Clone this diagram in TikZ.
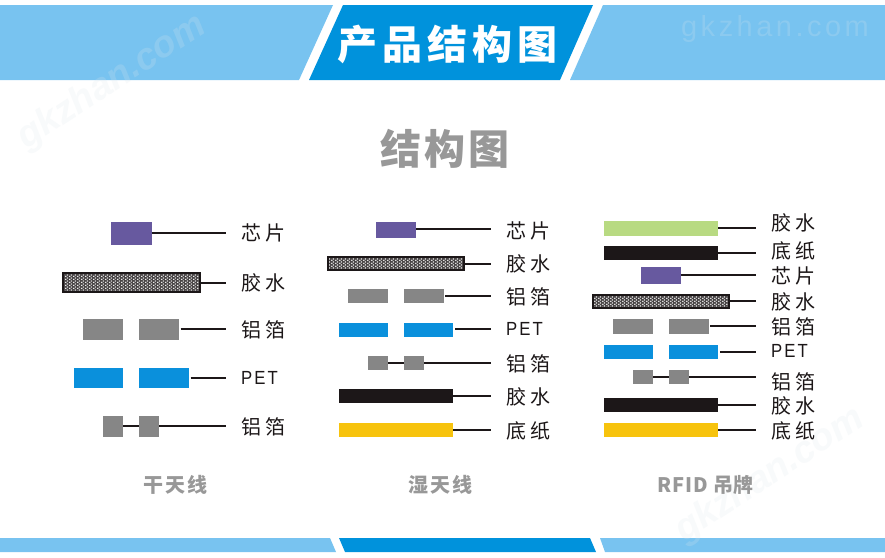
\documentclass[tikz,border=0pt]{standalone}
\usepackage{fontspec}
\usetikzlibrary{patterns}
\setmainfont{Liberation Sans}
\newfontfamily\cjk{Noto Sans CJK SC}
\newfontfamily\petfont{Liberation Sans}[FakeStretch=0.88]
\newfontfamily\wmfont{Liberation Sans}[LetterSpace=12]
\definecolor{bandlight}{HTML}{78C3F0}
\definecolor{banddark}{HTML}{0092DC}
\definecolor{chipc}{HTML}{67599F}
\definecolor{foilc}{HTML}{868686}
\definecolor{petc}{HTML}{0A90DC}
\definecolor{inkc}{HTML}{1C1718}
\definecolor{yellowc}{HTML}{F7C30D}
\definecolor{greenc}{HTML}{B8DA82}
\definecolor{greytxt}{HTML}{989898}
\definecolor{wmc}{HTML}{DCE6EC}
\pgfdeclarepatternformonly{gluedots}{\pgfqpoint{0pt}{0pt}}{\pgfqpoint{3.6pt}{3.2pt}}{\pgfqpoint{3.6pt}{3.2pt}}{%
  \pgfpathcircle{\pgfqpoint{0.9pt}{0.8pt}}{0.85pt}%
  \pgfpathcircle{\pgfqpoint{2.7pt}{2.4pt}}{0.85pt}%
  \pgfusepath{fill}}
\tikzset{
  chipbar/.style={fill=chipc},
  foilbar/.style={fill=foilc},
  petbar/.style={fill=petc},
  inkbar/.style={fill=inkc},
  yellowbar/.style={fill=yellowc},
  greenbar/.style={fill=greenc},
  gluebar/.style={inner sep=0pt,
     postaction={fill=inkc!80!white},
     postaction={pattern=gluedots,pattern color=white},
     postaction={draw=inkc,line width=1.9pt}},
  lead/.style={line width=1.9pt,draw=inkc},
  partlabel/.style={inner sep=0pt,anchor=west,text=inkc,font=\cjk\fontsize{20}{20}\selectfont},
  caption/.style={inner sep=0pt,text=greytxt,font=\cjk\bfseries\fontsize{20}{20}\selectfont},
  watermark/.style={inner sep=0pt,text=wmc,text opacity=0.2,font=\bfseries\itshape\fontsize{30}{30}\selectfont}
}
\newcommand{\PET}{{\petfont\fontsize{19}{19}\selectfont P\hspace{2pt}E\hspace{2pt}T}}
% name, x0, x1, y0, y1, style
\newcommand{\Seg}[6]{%
  \pgfmathsetmacro{\cxv}{(#2+#3)/2}\pgfmathsetmacro{\cyv}{(#4+#5)/2}%
  \pgfmathsetmacro{\wv}{#3-#2}\pgfmathsetmacro{\hv}{#5-#4}%
  \node[#6,draw=none,inner sep=0pt,outer sep=0pt,minimum width=\wv pt,minimum height=\hv pt] (#1) at (\cxv,\cyv) {};}
% glue bar uses its own border
\newcommand{\Glue}[5]{%
  \pgfmathsetmacro{\cxv}{(#2+#3)/2}\pgfmathsetmacro{\cyv}{(#4+#5)/2}%
  \pgfmathsetmacro{\wv}{#3-#2-1.9}\pgfmathsetmacro{\hv}{#5-#4-1.9}%
  \node[gluebar,outer sep=0pt,minimum width=\wv pt,minimum height=\hv pt] (#1) at (\cxv,\cyv) {};}
% from-node, gap, end x, y, label name, label x, label y, text
\newcommand{\Lead}[8]{%
  \coordinate (#5e) at (#3,#4);
  \draw[lead] ([xshift=#2pt]#1.east |- #5e) -- (#5e);
  \node[partlabel] (#5) at (#6,#7) {#8};}
\begin{document}
\begin{tikzpicture}[x=1pt,y=-1pt]
\useasboundingbox (0,0) rectangle (885,557);
\fill[white] (0,0) rectangle (885,557);
% bands
\fill[bandlight] (0,5) -- (333,5) -- (299,80) -- (0,80) -- cycle;
\fill[banddark] (343,5) -- (593,5) -- (560,80) -- (309,80) -- cycle;
\fill[bandlight] (603,5) -- (885,5) -- (885,80) -- (570,80) -- cycle;
\fill[bandlight] (0,538) -- (330,538) -- (336,552) -- (0,552) -- cycle;
\fill[banddark] (339,538) -- (590,538) -- (596,552) -- (345,552) -- cycle;
\fill[bandlight] (600,538) -- (885,538) -- (885,552) -- (605,552) -- cycle;
% watermarks
\node[watermark,rotate=33,scale=1.25] (wm1) at (112,82) {gkzhan.com};
\node[watermark,font=\wmfont\fontsize{29}{29}\selectfont] (wm2) at (775,29) {gkzhan.com};
\node[watermark,rotate=33,scale=1.25] (wm3) at (770,475) {gkzhan.com};
% titles
\node[inner sep=0pt,text=white,font=\cjk\bfseries\fontsize{40}{40}\selectfont] (title) at (447,44) {产\hspace{5pt}品\hspace{5pt}结\hspace{5pt}构\hspace{5pt}图};
\node[inner sep=0pt,text=greytxt,font=\cjk\bfseries\fontsize{41}{41}\selectfont] (sub) at (445,149) {结\hspace{3pt}构\hspace{3pt}图};
\node[caption] (c1) at (175,485) {干\hspace{2pt}天\hspace{2pt}线};
\node[caption] (c2) at (440,485) {湿\hspace{2pt}天\hspace{2pt}线};
\node[caption] (c3) at (705.5,485) {R\hspace{1pt}F\hspace{1pt}I\hspace{1pt}D\hspace{6pt}吊牌};
% column 1
\Seg{a1}{111}{151.7}{221.7}{245.3}{chipbar}
\Glue{a2}{61.7}{201}{272}{292.7}
\Seg{a3l}{83.3}{123.3}{319.3}{340}{foilbar}
\Seg{a3}{139.3}{179.3}{319.3}{340}{foilbar}
\Seg{a4l}{74}{123.3}{367.7}{388.3}{petbar}
\Seg{a4}{139.3}{188.7}{367.7}{388.3}{petbar}
\Seg{a5l}{103.3}{123.3}{416}{436.7}{foilbar}
\Seg{a5}{139.3}{159.3}{416}{436.7}{foilbar}
\Lead{a1}{0}{226}{233}{la1}{241.5}{233}{芯\hspace{4pt}片}
\Lead{a2}{0}{226}{282.7}{la2}{241.5}{283}{胶\hspace{4pt}水}
\Lead{a3}{1.4}{226}{329.3}{la3}{241.5}{330}{铝\hspace{4pt}箔}
\Lead{a4}{2}{226}{378}{la4}{241}{378}{\PET}
\Lead{a5}{0}{226}{426}{la5}{241.5}{427}{铝\hspace{4pt}箔}
\draw[lead] (a5l.east) -- (a5.west);
% column 2
\Seg{b1}{376}{416}{221.7}{238}{chipbar}
\Glue{b2}{326.7}{465.3}{256.3}{271}
\Seg{b3l}{348}{388}{289}{303.3}{foilbar}
\Seg{b3}{404}{444}{289}{303.3}{foilbar}
\Seg{b4l}{338.7}{388}{322.7}{336.7}{petbar}
\Seg{b4}{404}{453.3}{322.7}{336.7}{petbar}
\Seg{b5l}{368}{388}{356}{370}{foilbar}
\Seg{b5}{404}{424}{356}{370}{foilbar}
\Seg{b6}{338.7}{453.3}{389.3}{403.3}{inkbar}
\Seg{b7}{338.7}{453.3}{422.7}{436.7}{yellowbar}
\Lead{b1}{0}{490.7}{229.3}{lb1}{506}{230.5}{芯\hspace{4pt}片}
\Lead{b2}{0}{490.7}{263.7}{lb2}{506}{264}{胶\hspace{4pt}水}
\Lead{b3}{1}{490.7}{296}{lb3}{506}{297}{铝\hspace{4pt}箔}
\Lead{b4}{1.7}{490.7}{329.3}{lb4}{506}{329.3}{\PET}
\Lead{b5}{0}{490.7}{362.7}{lb5}{506}{364}{铝\hspace{4pt}箔}
\Lead{b6}{0}{490.7}{396.3}{lb6}{506}{397}{胶\hspace{4pt}水}
\Lead{b7}{0}{490.7}{429.7}{lb7}{506}{430.5}{底\hspace{4pt}纸}
\draw[lead] (b5l.east) -- (b5.west);
% column 3
\Seg{d1}{603.7}{718.3}{221.3}{235.7}{greenbar}
\Seg{d2}{603.7}{718.3}{246}{260.3}{inkbar}
\Seg{d3}{641}{681}{267.3}{283.7}{chipbar}
\Glue{d4}{591.7}{730.3}{293.7}{308.7}
\Seg{d5l}{613}{653}{319.3}{333.7}{foilbar}
\Seg{d5}{669}{709}{319.3}{333.7}{foilbar}
\Seg{d6l}{603.7}{653}{344.7}{359}{petbar}
\Seg{d6}{669}{718.3}{344.7}{359}{petbar}
\Seg{d7l}{633}{653}{370}{384.3}{foilbar}
\Seg{d7}{669}{689}{370}{384.3}{foilbar}
\Seg{d8}{603.7}{718.3}{397.7}{412}{inkbar}
\Seg{d9}{603.7}{718.3}{422.7}{437}{yellowbar}
\Lead{d1}{0}{755.7}{228.3}{ld1}{771}{222.5}{胶\hspace{4pt}水}
\Lead{d2}{0}{755.7}{253}{ld2}{771}{250.7}{底\hspace{4pt}纸}
\Lead{d3}{0}{755.7}{275.3}{ld3}{771}{275.7}{芯\hspace{4pt}片}
\Lead{d4}{0}{755.7}{301.3}{ld4}{771}{301.7}{胶\hspace{4pt}水}
\Lead{d5}{1}{755.7}{326.3}{ld5}{771}{327}{铝\hspace{4pt}箔}
\Lead{d6}{1.7}{755.7}{351.7}{ld6}{771}{350.7}{\PET}
\Lead{d7}{0}{755.7}{377}{ld7}{771}{381.7}{铝\hspace{4pt}箔}
\Lead{d8}{0}{755.7}{405}{ld8}{771}{406}{胶\hspace{4pt}水}
\Lead{d9}{0}{755.7}{429.7}{ld9}{771}{431}{底\hspace{4pt}纸}
\draw[lead] (d7l.east) -- (d7.west);
\end{tikzpicture}
\end{document}
